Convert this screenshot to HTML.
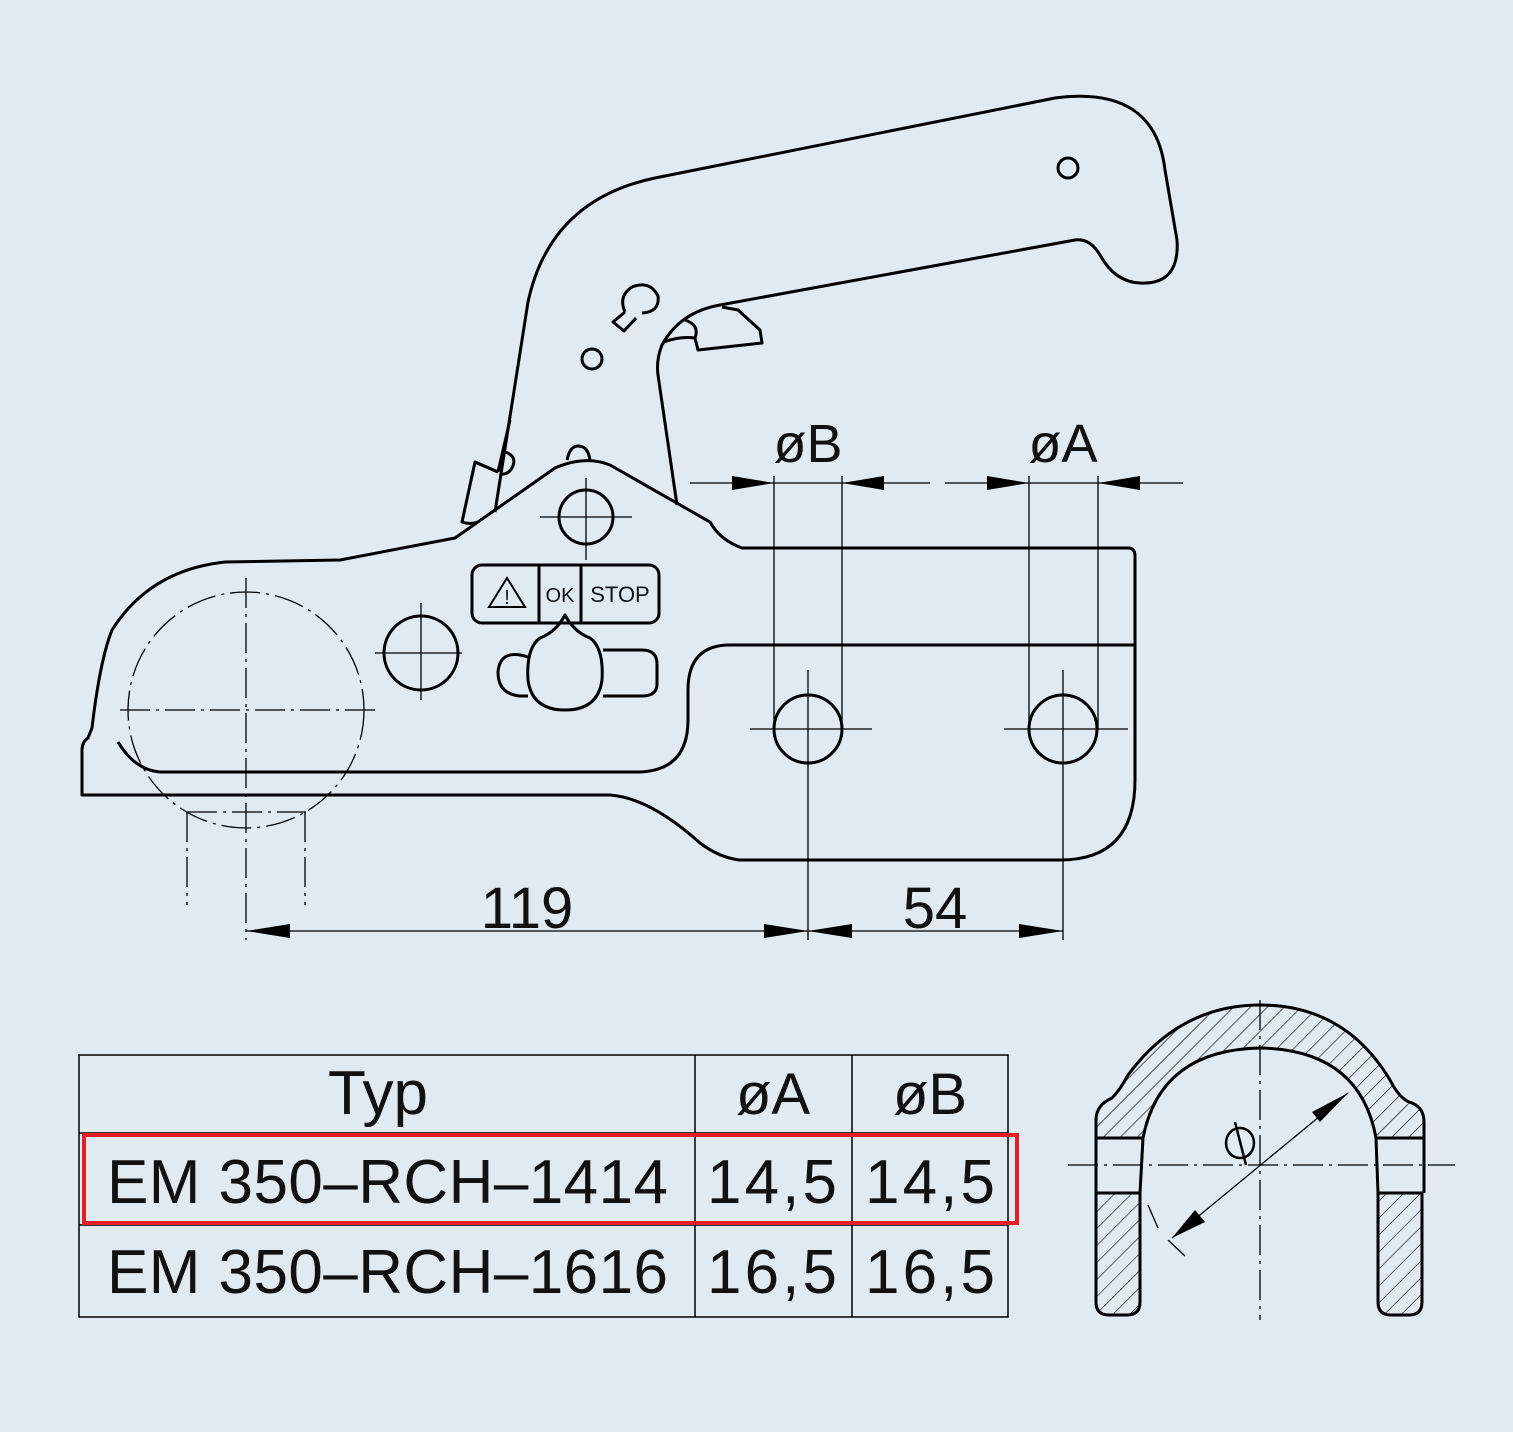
<!DOCTYPE html>
<html><head><meta charset="utf-8"><style>
html,body{margin:0;padding:0;background:#e1e9f1;}
svg{display:block}
text{font-family:"Liberation Sans",sans-serif;fill:#111}
</style></head><body>
<svg width="1513" height="1432" viewBox="0 0 1513 1432" xmlns="http://www.w3.org/2000/svg">
<defs>
<pattern id="h" width="12" height="12" patternUnits="userSpaceOnUse" patternTransform="rotate(45)">
<line x1="0" y1="0" x2="0" y2="12" stroke="#000" stroke-width="1.2"/>
</pattern>
</defs>
<rect width="1513" height="1432" fill="#e1e9f1"/>
<g fill="none" stroke="#000" stroke-width="3" stroke-linejoin="round">
<path d="M82,795 L82,750 Q82,742 88,738 L92,728 Q100,660 112,630 Q150,570 225,562 L340,560 L455,538 L555,468 Q585,455 610,465 L710,522 Q720,540 742,548 L1128,548 Q1135,548 1135,556 L1135,780 Q1135,860 1060,860 L740,860 Q720,858 700,843 Q650,798 610,795 Z"/>
<path d="M118,742 Q135,770 160,772 L640,772 Q688,770 688,720 L688,690 Q688,645 730,645 L1135,645" />
<path d="M495,512 L528,302 Q550,200 655,178 L1055,98 Q1155,85 1165,170 L1177,240 Q1180,285 1140,283 Q1115,282 1100,255 Q1090,238 1075,240 L720,305 Q680,312 662,345 Q656,360 658,375 L677,505"/>
<path d="M498,472 L475,462 L462,522 Q470,525 478,522"/>
<path d="M498,472 L510,420 M498,472 L475,462"/>
<path d="M505,452 Q518,456 512,468 Q508,475 500,474"/>
<path d="M664,342 Q680,336 695,338 L698,350 L762,343 L760,330 L738,310 L722,307 M695,338 Q700,325 685,320"/>
<path d="M567,460 Q570,446 578,446 Q588,446 590,460"/>
<circle cx="592" cy="359" r="10"/>
<circle cx="1068" cy="168" r="10"/>
<path d="M625,312 L613,322 L624,331 L636,318 M625,312 Q618,296 632,287 Q650,280 658,296 Q660,312 642,313"/>
<circle cx="586" cy="517" r="27"/>
<circle cx="421" cy="653" r="37"/>
<circle cx="808" cy="729" r="34"/>
<circle cx="1063" cy="729" r="34"/>
<rect x="472" y="565" width="187" height="58" rx="10"/>
<line x1="539" y1="565" x2="539" y2="623"/>
<line x1="581" y1="565" x2="581" y2="623"/>
<path d="M528,657 Q500,648 498,672 Q498,694 520,696 L528,696"/>
<path d="M603,650 L642,650 Q657,650 657,664 L657,684 Q657,696 642,696 L603,696"/>
<path d="M565,615 Q556,632 540,638 Q526,648 528,680 Q532,710 565,710 Q598,710 602,680 Q604,648 590,638 Q574,632 565,615 Z"/>
</g>
<path d="M489,607 L507,578 L525,607 Z" fill="none" stroke="#000" stroke-width="2"/>
<text x="507" y="604" font-size="20" text-anchor="middle">!</text>
<text x="560" y="602" font-size="20" text-anchor="middle">OK</text>
<text x="620" y="602" font-size="22" text-anchor="middle">STOP</text>
<g stroke="#000" stroke-width="1.3" fill="none" stroke-dasharray="30,6,3,6">
<circle cx="246" cy="710" r="118"/>
<line x1="120" y1="710" x2="380" y2="710"/>
<line x1="246" y1="578" x2="246" y2="940"/>
<line x1="187" y1="812" x2="306" y2="812"/>
<line x1="187" y1="812" x2="187" y2="905"/>
<line x1="305" y1="812" x2="305" y2="905"/>
<line x1="1260" y1="1000" x2="1260" y2="1320"/>
<line x1="1068" y1="1165" x2="1455" y2="1165"/>
</g>
<g stroke="#000" stroke-width="1.3">
<line x1="586" y1="478" x2="586" y2="560"/><line x1="540" y1="517" x2="632" y2="517"/>
<line x1="421" y1="603" x2="421" y2="700"/><line x1="375" y1="653" x2="462" y2="653"/>
<line x1="750" y1="729" x2="872" y2="729"/><line x1="1004" y1="729" x2="1128" y2="729"/>
<line x1="808" y1="670" x2="808" y2="940"/><line x1="1063" y1="670" x2="1063" y2="940"/>
<line x1="774" y1="476" x2="774" y2="730"/><line x1="842" y1="476" x2="842" y2="730"/>
<line x1="1029" y1="476" x2="1029" y2="730"/><line x1="1098" y1="476" x2="1098" y2="730"/>
<line x1="690" y1="483" x2="930" y2="483"/><line x1="945" y1="483" x2="1183" y2="483"/>
<line x1="246" y1="931" x2="1063" y2="931"/>
</g>
<g fill="#000">
<polygon points="774,483 732,476 732,490"/><polygon points="842,483 884,476 884,490"/>
<polygon points="1029,483 987,476 987,490"/><polygon points="1098,483 1140,476 1140,490"/>
<polygon points="246,931 290,924 290,938"/><polygon points="808,931 764,924 764,938"/>
<polygon points="808,931 852,924 852,938"/><polygon points="1063,931 1019,924 1019,938"/>
</g>
<text x="808" y="462" font-size="54" text-anchor="middle">øB</text>
<text x="1063" y="462" font-size="54" text-anchor="middle">øA</text>
<text x="527" y="928" font-size="58" text-anchor="middle">119</text>
<text x="935" y="928" font-size="58" text-anchor="middle">54</text>
<path d="M1096,1138 L1096,1120 Q1096,1105 1112,1098 Q1120,1090 1128,1075 Q1180,1005 1260,1005 Q1345,1005 1390,1080 Q1400,1100 1412,1103 Q1424,1108 1424,1122 L1424,1138 L1376,1138 Q1360,1050 1260,1048 Q1160,1050 1143,1138 Z" fill="url(#h)" stroke="#000" stroke-width="3"/>
<path d="M1096,1193 L1140,1193 L1140,1302 Q1140,1315 1127,1315 L1109,1315 Q1096,1315 1096,1302 Z" fill="url(#h)" stroke="#000" stroke-width="3"/>
<path d="M1378,1193 L1422,1193 L1422,1302 Q1422,1315 1409,1315 L1391,1315 Q1378,1315 1378,1302 Z" fill="url(#h)" stroke="#000" stroke-width="3"/>
<g stroke="#000" stroke-width="3" fill="none">
<path d="M1096,1138 L1096,1193 M1424,1138 L1424,1193 M1143,1138 L1140,1193 M1376,1138 L1378,1193"/>
</g>
<line x1="1172" y1="1238" x2="1348" y2="1093" stroke="#000" stroke-width="1.3"/>
<polygon points="1348,1093 1320,1122 1312,1112" fill="#000"/>
<polygon points="1172,1238 1195,1210 1205,1222" fill="#000"/>
<path d="M1148,1205 L1158,1228 M1168,1240 L1185,1256" stroke="#000" stroke-width="1.3"/>
<ellipse cx="1240" cy="1143" rx="14" ry="15" fill="none" stroke="#000" stroke-width="2.5"/>
<line x1="1235" y1="1122" x2="1246" y2="1165" stroke="#000" stroke-width="2.5"/>
<g stroke="#000" stroke-width="1.5" fill="none">
<rect x="79" y="1055" width="929" height="262"/>
<line x1="695" y1="1055" x2="695" y2="1317"/>
<line x1="852" y1="1055" x2="852" y2="1317"/>
<line x1="79" y1="1133" x2="1008" y2="1133"/>
<line x1="79" y1="1225" x2="1008" y2="1225"/>
</g>
<rect x="84" y="1135" width="933" height="88" fill="none" stroke="#e21f26" stroke-width="4"/>
<text x="378" y="1114" font-size="62" text-anchor="middle">Typ</text>
<text x="773" y="1114" font-size="58" text-anchor="middle">øA</text>
<text x="930" y="1114" font-size="58" text-anchor="middle">øB</text>
<text x="107" y="1203" font-size="62" textLength="561" lengthAdjust="spacing">EM 350–RCH–1414</text>
<text x="707" y="1203" font-size="62" textLength="130" lengthAdjust="spacing">14,5</text>
<text x="865" y="1203" font-size="62" textLength="130" lengthAdjust="spacing">14,5</text>
<text x="107" y="1293" font-size="62" textLength="561" lengthAdjust="spacing">EM 350–RCH–1616</text>
<text x="707" y="1293" font-size="62" textLength="130" lengthAdjust="spacing">16,5</text>
<text x="865" y="1293" font-size="62" textLength="130" lengthAdjust="spacing">16,5</text>
</svg>
</body></html>
